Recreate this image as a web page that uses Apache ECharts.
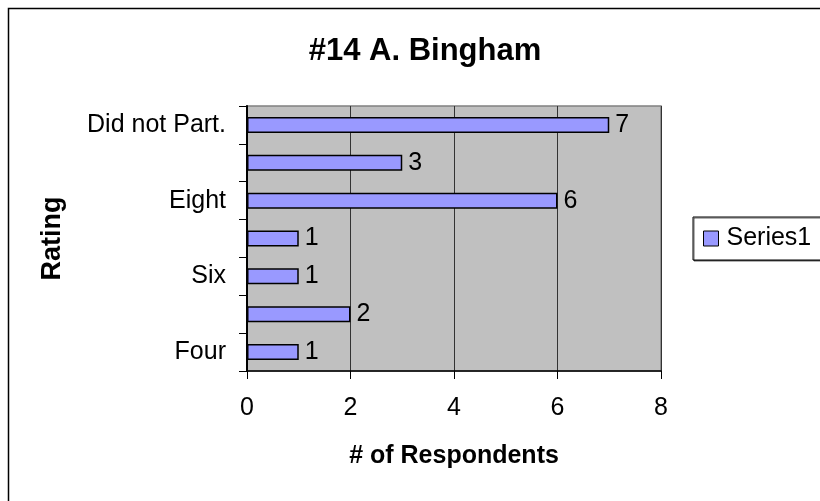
<!DOCTYPE html>
<html>
<head>
<meta charset="utf-8">
<script src="https://cdn.jsdelivr.net/npm/echarts@6/dist/echarts.min.js"></script>
<style>html,body{margin:0;padding:0;background:#fff}#c{width:820px;height:501px}</style>
</head>
<body>
<div id="c"></div>
<script>
var categories = ['Four', 'Five', 'Six', 'Seven', 'Eight', 'Nine', 'Did not Part.'];
var values = [1, 2, 1, 1, 6, 3, 7];
var xTicks = [0, 2, 4, 6, 8];
var seriesName = 'Series1';
var F = '"Liberation Sans", Arial, sans-serif';

var chart = echarts.init(document.getElementById('c'));
chart.setOption({
  animation: false,
  backgroundColor: '#fff',
  title: {
    text: '#14 A. Bingham', left: 420, textAlign: 'center', top: 31,
    textStyle: { fontFamily: F, fontSize: 31, fontWeight: 'bold', color: '#000' }
  },
  graphic: [{
    type: 'rect', shape: { x: 8.5, y: 8.5, width: 900, height: 600 }, silent: true, z: -10,
    style: { fill: 'none', stroke: '#000', lineWidth: 1.5 }
  }],
  legend: {
    data: [seriesName], left: 693, top: 217, orient: 'vertical', icon: 'rect',
    padding: [9, 60, 9, 10], itemWidth: 15, itemHeight: 15, itemGap: 4,
    borderColor: '#000', borderWidth: 1, backgroundColor: '#fff',
    shadowColor: 'rgba(0,0,0,0.6)', shadowOffsetY: 1, shadowOffsetX: 1,
    textStyle: { fontFamily: F, fontSize: 25, lineHeight: 25, color: '#000', padding: [0, 0, 0, 3] },
    itemStyle: { borderColor: '#000', borderWidth: 1 }
  },
  grid: {
    left: 247, right: 159, top: 106, bottom: 130, show: true,
    backgroundColor: '#C0C0C0', borderColor: '#808080', borderWidth: 1.5
  },
  xAxis: {
    type: 'value', min: 0, max: 8, interval: 2,
    name: '# of Respondents', nameLocation: 'middle', nameGap: 73,
    nameTextStyle: { fontFamily: F, fontSize: 25, fontWeight: 'bold', color: '#000' },
    axisLine: { show: true, lineStyle: { color: '#000', width: 1.5 } },
    axisTick: { show: true, length: 8, lineStyle: { color: '#000', width: 1 } },
    axisLabel: { fontFamily: F, fontSize: 25, color: '#000', margin: 25,
      formatter: function (v) { return xTicks.indexOf(v) >= 0 ? String(v) : ''; } },
    splitLine: { show: true, lineStyle: { color: '#333', width: 1 } }
  },
  yAxis: {
    type: 'category', data: categories,
    name: 'Rating', nameLocation: 'middle', nameGap: 181, nameRotate: 90,
    nameTextStyle: { fontFamily: F, fontSize: 27, fontWeight: 'bold', color: '#000' },
    axisLine: { show: true, lineStyle: { color: '#000', width: 2 } },
    axisTick: { show: true, interval: 0, length: 8, lineStyle: { color: '#000', width: 1 } },
    axisLabel: { interval: 1, fontFamily: F, fontSize: 25, color: '#000', margin: 21 },
    splitLine: { show: false }
  },
  series: [{
    name: seriesName, type: 'bar', data: values, barWidth: 16,
    itemStyle: { color: '#9999FF', borderColor: '#000', borderWidth: 1.5 },
    label: { show: true, position: 'right', distance: 6, fontFamily: F, fontSize: 25, color: '#000' }
  }]
});
</script>
</body>
</html>
